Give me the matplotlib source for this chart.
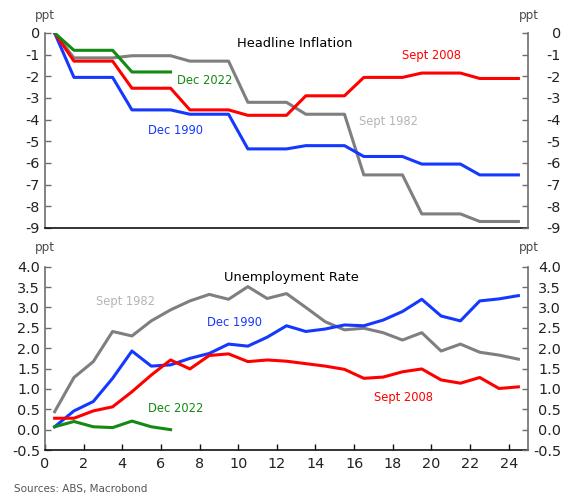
import matplotlib
matplotlib.use("Agg")
import matplotlib.pyplot as plt
import numpy as np

plt.rcParams["axes.unicode_minus"] = False

# months since start of downturn (monthly, centred on half steps)
months = np.arange(25) + 0.5

# headline inflation change, ppt (quarterly values held across months)
infl_1982_q = [0, -1.15, -1.05, -1.3, -3.2, -3.75, -6.55, -8.35, -8.7]
infl_1990_q = [0, -2.05, -3.55, -3.75, -5.35, -5.2, -5.7, -6.05, -6.55]
infl_2008_q = [0, -1.3, -2.55, -3.55, -3.8, -2.9, -2.05, -1.85, -2.1]
infl_2022_q = [0, -0.8, -1.8]

# unemployment rate change, ppt
unemp_1982 = [0.44, 1.28, 1.67, 2.41, 2.30, 2.67, 2.94, 3.16, 3.32, 3.20, 3.51, 3.22, 3.34,
              3.0, 2.65, 2.45, 2.49, 2.38, 2.2, 2.38, 1.93, 2.1, 1.9, 1.83, 1.73]
unemp_1990 = [0.07, 0.46, 0.69, 1.26, 1.93, 1.56, 1.59, 1.75, 1.87, 2.1, 2.05, 2.27, 2.55,
              2.41, 2.47, 2.57, 2.55, 2.69, 2.9, 3.2, 2.79, 2.67, 3.16, 3.21, 3.29]
unemp_2008 = [0.28, 0.28, 0.46, 0.56, 0.93, 1.34, 1.71, 1.49, 1.82, 1.86, 1.67, 1.71, 1.68,
              1.62, 1.56, 1.48, 1.26, 1.29, 1.42, 1.49, 1.22, 1.14, 1.28, 1.01, 1.05]
unemp_2022 = [0.07, 0.2, 0.07, 0.05, 0.21, 0.07, 0.0]

RED = "#ff0000"
BLUE = "#1438ff"
GREEN = "#138a13"
GREY = "#7f7f7f"
LGREY = "#b4b4b4"
SPINE = "#6e6e6e"
TICKFONT = 10.4


def monthly(quarters):
    # first point is the starting level, then each quarter spans three months
    vals = [quarters[0]]
    for q in quarters[1:]:
        vals += [q, q, q]
    return vals


def style_axis(ax, ylim, yticks, fmt):
    ax.set_xlim(0, 25)
    ax.set_ylim(*ylim)
    ax.set_yticks(yticks)
    ax.set_yticklabels([fmt.format(v) for v in yticks])
    ax.spines["top"].set_visible(False)
    ax.spines["right"].set_visible(False)
    ax.spines["left"].set_color(SPINE)
    ax.spines["bottom"].set_color("#111111")
    for s in ax.spines.values():
        s.set_linewidth(1.2)
    ax.tick_params(axis="y", direction="in", length=4, width=1, color=SPINE,
                   labelsize=TICKFONT, labelcolor="#222222", pad=3.6)

    # right hand scale, labels right aligned near the figure edge
    rax = ax.twinx()
    rax.set_ylim(*ylim)
    rax.set_yticks(yticks)
    rax.set_yticklabels([fmt.format(v) for v in yticks], ha="right")
    for side in ("top", "left", "bottom"):
        rax.spines[side].set_visible(False)
    rax.spines["right"].set_color(SPINE)
    rax.spines["right"].set_linewidth(1.2)
    rax.tick_params(axis="y", direction="in", length=4, width=1, color=SPINE,
                    labelsize=TICKFONT, labelcolor="#222222", pad=23.8)
    return rax


fig = plt.figure(figsize=(5.65, 4.95), dpi=100)
ax1 = fig.add_axes([0.0796, 0.5394, 0.855, 0.394])
ax2 = fig.add_axes([0.0796, 0.0909, 0.855, 0.3703])

lw = 2.2
# top panel
ax1.plot(months, monthly(infl_1982_q), color=GREY, lw=lw)
ax1.plot(months, monthly(infl_1990_q), color=BLUE, lw=lw)
ax1.plot(months, monthly(infl_2008_q), color=RED, lw=lw)
ax1.plot(months[:len(monthly(infl_2022_q))], monthly(infl_2022_q), color=GREEN, lw=lw)
style_axis(ax1, (-9, 0), list(range(-9, 1)), "{:d}")
ax1.set_xticks([])

ax1.text(12.95, -0.5, "Headline Inflation", ha="center", va="center", fontsize=9.4, color="black")
ax1.text(20.0, -1.05, "Sept 2008", ha="center", va="center", fontsize=8.3, color=RED)
ax1.text(8.25, -2.2, "Dec 2022", ha="center", va="center", fontsize=8.3, color=GREEN)
ax1.text(6.75, -4.5, "Dec 1990", ha="center", va="center", fontsize=8.3, color=BLUE)
ax1.text(17.8, -4.1, "Sept 1982", ha="center", va="center", fontsize=8.3, color=LGREY)

# bottom panel
ax2.plot(months, unemp_1982, color=GREY, lw=lw)
ax2.plot(months, unemp_1990, color=BLUE, lw=lw)
ax2.plot(months, unemp_2008, color=RED, lw=lw)
ax2.plot(months[:len(unemp_2022)], unemp_2022, color=GREEN, lw=lw)
style_axis(ax2, (-0.5, 4.0), list(np.arange(-0.5, 4.01, 0.5)), "{:.1f}")
ax2.set_xticks(range(0, 25, 2))
ax2.tick_params(axis="x", direction="in", length=4, width=1, color="#111111",
                labelsize=TICKFONT, labelcolor="#222222", pad=5)

ax2.text(12.75, 3.74, "Unemployment Rate", ha="center", va="center", fontsize=9.4, color="black")
ax2.text(4.15, 3.14, "Sept 1982", ha="center", va="center", fontsize=8.3, color=LGREY)
ax2.text(9.8, 2.64, "Dec 1990", ha="center", va="center", fontsize=8.3, color=BLUE)
ax2.text(6.74, 0.52, "Dec 2022", ha="center", va="center", fontsize=8.3, color=GREEN)
ax2.text(18.58, 0.78, "Sept 2008", ha="center", va="center", fontsize=8.3, color=RED)

# unit labels above the axes
for ypx in (15, 247):
    fig.text(45 / 565, 1 - ypx / 495, "ppt", ha="center", va="center", fontsize=8.6, color="#4a4a4a")
    fig.text(528.5 / 565, 1 - ypx / 495, "ppt", ha="center", va="center", fontsize=8.6, color="#4a4a4a")

fig.text(14 / 565, 1 - 489 / 495, "Sources: ABS, Macrobond", ha="left", va="center",
         fontsize=7.5, color="#555555")

fig.savefig("out.png", dpi=100)
